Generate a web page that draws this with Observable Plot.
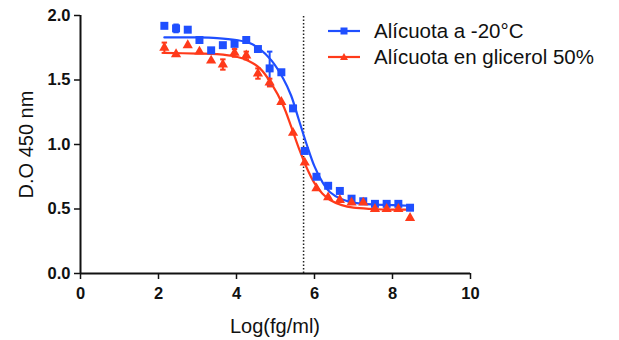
<!DOCTYPE html>
<html><head><meta charset="utf-8">
<script src="https://cdn.jsdelivr.net/npm/d3@7"></script>
<script src="https://cdn.jsdelivr.net/npm/@observablehq/plot@0.6"></script>
<style>
body{margin:0;background:#fff;font-family:"Liberation Sans",Arial,sans-serif;}
#wrap{position:relative;width:619px;height:340px;overflow:hidden;}
#chart svg{display:block;}
.lab{position:absolute;font-size:20px;color:#111;white-space:nowrap;}
#legend{position:absolute;left:328px;top:18px;font-size:20.5px;color:#111;}
.row{display:flex;align-items:center;height:26px;}
.row svg{margin-right:14px;}
</style></head><body>
<div id="wrap"><div id="chart"></div><div id="legend"></div>
<div class="lab" id="xt">Log(fg/ml)</div>
<div class="lab" id="yt">D.O 450 nm</div>
</div>
<script>
const logConc = [2.15,2.45,2.75,3.05,3.35,3.65,3.95,4.25,4.55,4.85,5.15,5.45,5.75,6.05,6.35,6.65,6.95,7.25,7.55,7.85,8.15,8.45];
const blueOD = [1.92,1.90,1.89,1.81,1.73,1.77,1.78,1.81,1.74,1.59,1.56,1.28,0.95,0.75,0.68,0.64,0.58,0.56,0.54,0.54,0.54,0.51];
const redOD  = [1.75,1.70,1.77,1.72,1.65,1.62,1.71,1.69,1.55,1.48,1.33,1.09,0.86,0.66,0.59,0.57,0.55,0.55,0.50,0.50,0.50,0.43];
const blueErr = [0,0.03,0,0,0,0,0,0,0,0.13,0,0,0,0,0,0,0,0,0,0,0,0];
const redErr  = [0.04,0,0,0,0,0.04,0.03,0.03,0.04,0.03,0,0,0,0,0,0,0,0,0,0,0,0];
const fitX = [2.15,3.0,3.5,4.0,4.3,4.6,4.9,5.2,5.4,5.6,5.8,6.0,6.2,6.4,6.7,7.0,7.5,8.0,8.45];
const blueFit = [1.83,1.83,1.825,1.81,1.79,1.74,1.65,1.51,1.38,1.19,1.00,0.83,0.71,0.63,0.575,0.55,0.535,0.53,0.525];
const redFit  = [1.71,1.705,1.70,1.68,1.65,1.59,1.47,1.30,1.14,0.97,0.82,0.70,0.62,0.57,0.53,0.51,0.50,0.495,0.495];
const cutoff = [5.72];
const xTicks = [0,2,4,6,8,10];
const yTicks = [0,0.5,1,1.5,2];
const seriesNames = ["Alícuota a -20°C","Alícuota en glicerol 50%"];
const seriesColors = ["#1f4fff","#ff3a1a"];
const seriesSymbols = ["square","triangle"];

const pts = [];
logConc.forEach((x,i)=>{
  pts.push({s:seriesNames[0],x,y:blueOD[i],e:blueErr[i]});
  pts.push({s:seriesNames[1],x,y:redOD[i],e:redErr[i]});
});
const fits = [];
fitX.forEach((x,i)=>{
  fits.push({s:seriesNames[0],x,y:blueFit[i]});
  fits.push({s:seriesNames[1],x,y:redFit[i]});
});
const errs = pts.filter(d=>d.e>0);
const col = d3.scaleOrdinal(seriesNames, seriesColors);
const capW = 0.07;

const chart = Plot.plot({
  width:619, height:340,
  marginLeft:80, marginRight:149, marginTop:15, marginBottom:67,
  x:{domain:[0,10]}, y:{domain:[0,2]},
  style:{fontFamily:"'Liberation Sans', Arial, sans-serif", color:"#111"},
  marks:[
    Plot.ruleX(cutoff,{y1:0,y2:2,stroke:"#222",strokeWidth:1.5,strokeDasharray:"1.5,2"}),
    Plot.line(fits,{x:"x",y:"y",z:"s",stroke:d=>col(d.s),strokeWidth:2.2,curve:"catmull-rom"}),
    Plot.link(errs,{x1:"x",x2:"x",y1:d=>d.y-d.e,y2:d=>d.y+d.e,stroke:d=>col(d.s),strokeWidth:2}),
    Plot.link(errs,{x1:d=>d.x-capW,x2:d=>d.x+capW,y1:d=>d.y+d.e,y2:d=>d.y+d.e,stroke:d=>col(d.s),strokeWidth:2}),
    Plot.link(errs,{x1:d=>d.x-capW,x2:d=>d.x+capW,y1:d=>d.y-d.e,y2:d=>d.y-d.e,stroke:d=>col(d.s),strokeWidth:2}),
    Plot.dot(pts.filter(d=>d.s===seriesNames[0]),{x:"x",y:"y",symbol:"square",r:4.5,fill:seriesColors[0],stroke:"none"}),
    Plot.dot(pts.filter(d=>d.s===seriesNames[1]),{x:"x",y:"y",symbol:"triangle",r:3.8,fill:seriesColors[1],stroke:"none"}),
    Plot.axisX({ticks:xTicks,tickSize:6,tickPadding:8,fontSize:16.5,fontWeight:"bold",label:null,strokeWidth:1.5,tickFormat:d3.format("d")}),
    Plot.axisY({ticks:yTicks,tickSize:6,tickPadding:4,fontSize:16.5,fontWeight:"bold",label:null,strokeWidth:1.5,tickFormat:d3.format(".1f")}),
    Plot.ruleY([0],{x1:0,x2:10,stroke:"#111",strokeWidth:2}),
    Plot.ruleX([0],{y1:0,y2:2,stroke:"#111",strokeWidth:2})
  ]
});
document.getElementById("chart").appendChild(chart);

// legend
const leg = document.getElementById("legend");
seriesNames.forEach((n,i)=>{
  const row = document.createElement("div"); row.className="row";
  const sym = seriesSymbols[i]==="square"
    ? `<rect x="12.5" y="5.5" width="7" height="7" fill="${seriesColors[i]}"/>`
    : `<path d="M16,5 L20,12 L12,12 Z" fill="${seriesColors[i]}"/>`;
  row.innerHTML = `<svg width="32" height="18"><line x1="0" x2="32" y1="9" y2="9" stroke="${seriesColors[i]}" stroke-width="2.2"/>${sym}</svg><span>${n}</span>`;
  leg.appendChild(row);
});

// axis titles
const xt = document.getElementById("xt");
xt.style.left = (275 - xt.offsetWidth/2) + "px";
xt.style.top = (326 - xt.offsetHeight/2) + "px";
const yt = document.getElementById("yt");
yt.style.left = (27 - yt.offsetWidth/2) + "px";
yt.style.top = (144 - yt.offsetHeight/2) + "px";
yt.style.transform = "rotate(-90deg)";
</script>
</body></html>
